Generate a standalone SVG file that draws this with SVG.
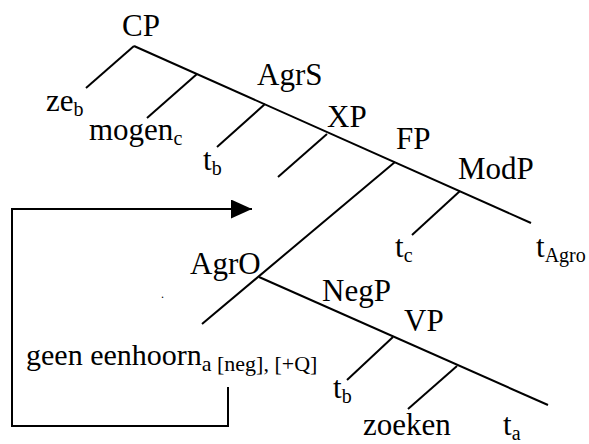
<svg xmlns="http://www.w3.org/2000/svg" width="589" height="444" viewBox="0 0 589 444">
<style>
text{font-family:'Liberation Serif','DejaVu Serif',serif;fill:#000;font-size:31px}
.s{font-size:20px}
.s2{font-size:22px}
line,polyline{stroke:#000;stroke-width:2;fill:none}
</style>
<defs>
<marker id="ah" markerWidth="21" markerHeight="19" refX="21" refY="9.5" orient="auto" markerUnits="userSpaceOnUse">
<path d="M0,0 L21,9.5 L0,19 Z" fill="#000"/>
</marker>
</defs>
<rect width="589" height="444" fill="#fff"/>
<g id="connectors">
<line x1="134" y1="46" x2="531" y2="223"/>
<line x1="134" y1="46" x2="86" y2="88"/>
<line x1="197" y1="74" x2="147" y2="118"/>
<line x1="265" y1="104" x2="217" y2="147"/>
<line x1="327" y1="134" x2="278" y2="177"/>
<line x1="395" y1="162" x2="202" y2="324"/>
<line x1="460" y1="191" x2="412" y2="235"/>
<line x1="259" y1="277" x2="548" y2="405"/>
<line x1="393" y1="337" x2="347" y2="380"/>
<line x1="457" y1="366" x2="408" y2="409"/>
<polyline points="228,387 228,426 12,426 12,209 252,209" marker-end="url(#ah)"/>
</g>
<g id="CP"><text x="122" y="36">CP</text></g>
<g id="ze"><text x="46" y="111">ze<tspan class="s" dy="5">b</tspan></text></g>
<g id="mogen"><text x="89" y="140">mogen<tspan class="s" dy="5">c</tspan></text></g>
<g id="AgrS"><text x="257" y="85">AgrS</text></g>
<g id="tb1"><text x="203" y="170">t<tspan class="s" dy="5">b</tspan></text></g>
<g id="XP"><text x="327" y="127">XP</text></g>
<g id="FP"><text x="396" y="149">FP</text></g>
<g id="ModP"><text x="458" y="179">ModP</text></g>
<g id="tc"><text x="395" y="257">t<tspan class="s" dy="5">c</tspan></text></g>
<g id="tAgro"><text x="536" y="257">t<tspan class="s" dy="5">Agro</tspan></text></g>
<g id="AgrO"><text x="190" y="274">AgrO</text></g>
<g id="dot"><text x="161" y="298" style="font-size:12px">.</text></g>
<g id="NegP"><text x="322" y="301">NegP</text></g>
<g id="VP"><text x="404" y="331">VP</text></g>
<g id="geen"><text x="26" y="365" style="font-size:30px">geen eenhoorn<tspan class="s2" dy="6">a [neg], [+Q]</tspan></text></g>
<g id="tb2"><text x="333" y="398">t<tspan class="s" dy="5">b</tspan></text></g>
<g id="zoeken"><text x="363" y="435">zoeken</text></g>
<g id="ta"><text x="503" y="435">t<tspan class="s" dy="5">a</tspan></text></g>
</svg>
